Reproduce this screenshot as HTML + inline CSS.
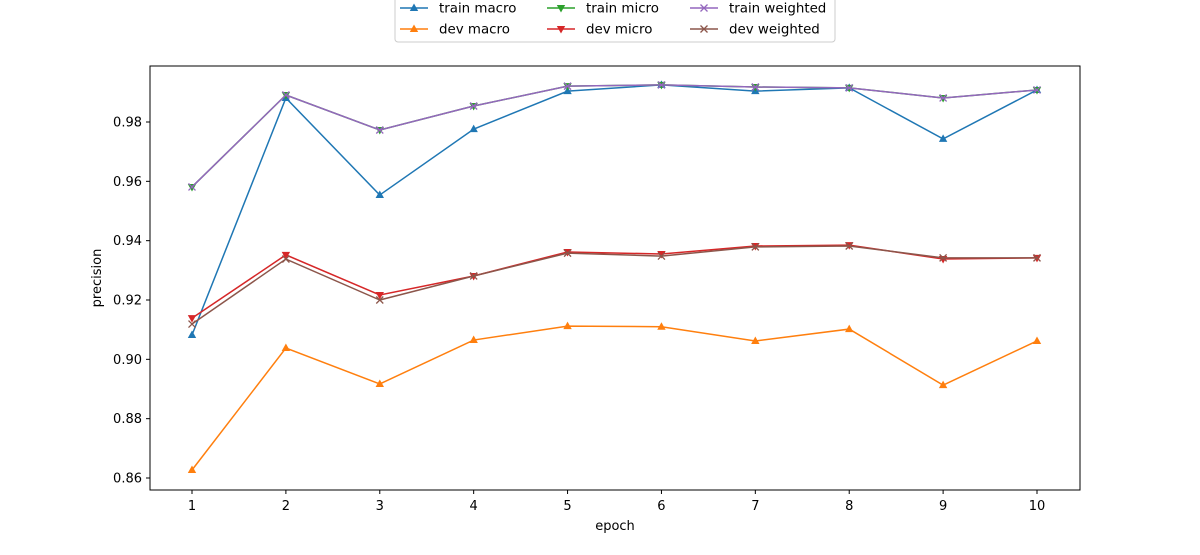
<!DOCTYPE html>
<html><head><meta charset="utf-8"><style>
body{margin:0;background:#fff;}
svg text{font-family:"DejaVu Sans","Liberation Sans",sans-serif;font-size:13px;fill:#000;}
#legend text{font-size:13.4px;}
</style></head><body>
<svg id="chart" width="1200" height="550" xmlns="http://www.w3.org/2000/svg">
<rect x="150" y="66" width="930" height="424" fill="none" stroke="#000" stroke-width="1"/>
<g id="xticks"></g><g id="yticks"></g><g id="series"></g>
<text x="615" y="530" text-anchor="middle">epoch</text>
<text transform="translate(101,278) rotate(-90)" text-anchor="middle">precision</text>
<g id="legend">
<rect x="395" y="-3" width="440" height="45" rx="3" fill="#fff" stroke="#ccc"/>
</g>
</svg>
<script>
const epochs=[1,2,3,4,5,6,7,8,9,10];
const yTicks=[0.86,0.88,0.90,0.92,0.94,0.96,0.98];
const trainMacro=[0.9082,0.9881,0.9554,0.9776,0.9904,0.9925,0.9904,0.9915,0.9743,0.9908];
const devMacro=[0.8627,0.9038,0.8917,0.9065,0.9112,0.9110,0.9062,0.9102,0.8913,0.9062];
const trainMicro=[0.9581,0.9891,0.9773,0.9854,0.9921,0.9925,0.9918,0.9915,0.9881,0.9908];
const devMicro=[0.9139,0.9352,0.9217,0.9281,0.9362,0.9355,0.9382,0.9385,0.9338,0.9342];
const trainWeighted=[0.9581,0.9891,0.9773,0.9854,0.9921,0.9925,0.9918,0.9915,0.9881,0.9908];
const devWeighted=[0.9119,0.9338,0.9200,0.9281,0.9358,0.9348,0.9379,0.9382,0.9342,0.9342];
const NS="http://www.w3.org/2000/svg";
const X=e=>192+(e-1)*(1037-192)/9;
const Y=v=>478-(v-0.86)*(478-122)/0.12;
function mk(t,a,p){const el=document.createElementNS(NS,t);for(const k in a)el.setAttribute(k,a[k]);p.appendChild(el);return el;}
const xg=document.getElementById('xticks'),yg=document.getElementById('yticks');
epochs.forEach(e=>{const g=mk('g',{},xg);


mk('line',{x1:X(e),x2:X(e),y1:490,y2:494,stroke:'#000'},g);
const t=mk('text',{x:X(e),y:510,'text-anchor':'middle'},g);t.textContent=e;});
yTicks.forEach(v=>{const g=mk('g',{},yg);


mk('line',{x1:146,x2:150,y1:Y(v),y2:Y(v),stroke:'#000'},g);
const t=mk('text',{x:142,y:Y(v)+4.5,'text-anchor':'end'},g);t.textContent=v.toFixed(2);});
function marker(type,x,y,c,p){
 if(type==='up')mk('path',{d:`M${x},${y-4.5}L${x+4.2},${y+3}L${x-4.2},${y+3}Z`,fill:c},p);
 else if(type==='down')mk('path',{d:`M${x},${y+4.5}L${x+4.2},${y-3}L${x-4.2},${y-3}Z`,fill:c},p);
 else mk('path',{d:`M${x-3.5},${y-3.5}L${x+3.5},${y+3.5}M${x-3.5},${y+3.5}L${x+3.5},${y-3.5}`,stroke:c,'stroke-width':1.3},p);
}
const series=[
 ['train-macro','train macro',trainMacro,'#1f77b4','up',400,8],
 ['dev-macro','dev macro',devMacro,'#ff7f0e','up',400,29],
 ['train-micro','train micro',trainMicro,'#2ca02c','down',547,8],
 ['dev-micro','dev micro',devMicro,'#d62728','down',547,29],
 ['train-weighted','train weighted',trainWeighted,'#9467bd','x',690,8],
 ['dev-weighted','dev weighted',devWeighted,'#8c564b','x',690,29]];
const sg=document.getElementById('series'),lg=document.getElementById('legend');
series.forEach(([id,label,vals,c,m,lx,ly])=>{
 const g=mk('g',{},sg);
 
 
 mk('polyline',{points:vals.map((v,i)=>X(epochs[i])+','+Y(v)).join(' '),fill:'none',stroke:c,'stroke-width':1.5},g);
 vals.forEach((v,i)=>marker(m,X(epochs[i]),Y(v),c,g));
 const e=mk('g',{},lg);
 
 
 mk('line',{x1:lx,x2:lx+28,y1:ly,y2:ly,stroke:c,'stroke-width':1.5},e);
 marker(m,lx+14,ly,c,e);
 const t=mk('text',{x:lx+39,y:ly+4.5},e);t.textContent=label;
});
</script>
</body></html>
